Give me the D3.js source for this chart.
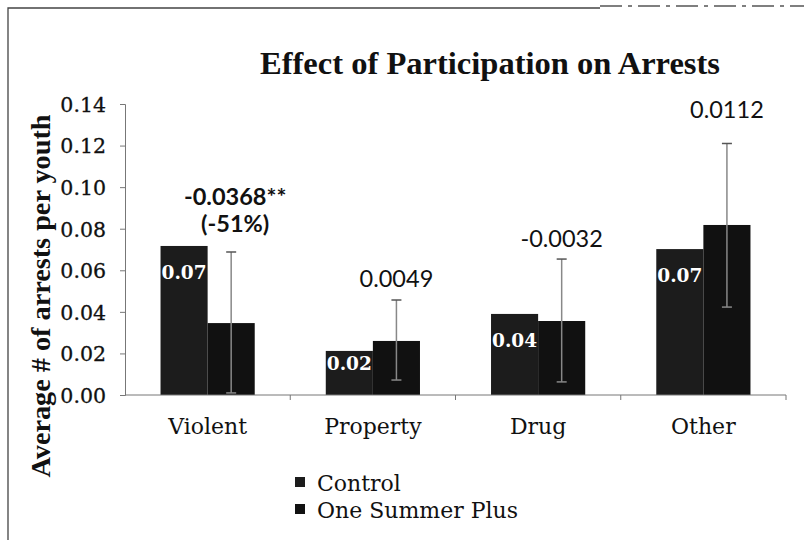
<!DOCTYPE html>
<html>
<head>
<meta charset="utf-8">
<script src="https://cdn.jsdelivr.net/npm/d3@7"></script>
<style>
  body { margin: 0; background: #fff; }
</style>
</head>
<body>
<div id="chart"></div>
<script>
// 資料
const categories = ["Violent", "Property", "Drug", "Other"];
const series = ["Control", "One Summer Plus"];
const controlValues = [0.0717, 0.0212, 0.039, 0.0702];
const oneSummerValues = [0.0346, 0.026, 0.0356, 0.0818];
const errorLow = [0.001, 0.0072, 0.0063, 0.0423];
const errorHigh = [0.0688, 0.0457, 0.0654, 0.121];
const effectLabels = [["-0.0368**", "(-51%)"], ["0.0049"], ["-0.0032"], ["0.0112"]];
const effectLabelAt = [[0.0914, 0.0784], [0.052], [0.0712], [0.1333]];
const controlLabels = ["0.07", "0.02", "0.04", "0.07"];
const yTicks = [0, 0.02, 0.04, 0.06, 0.08, 0.10, 0.12, 0.14];

const width = 804, height = 540;
const margin = { left: 125, right: 18, top: 104, bottom: 145 };

const svg = d3.select("#chart").append("svg")
    .attr("width", width)
    .attr("height", height);

// 外框
svg.append("path")
    .attr("d", "M8,540 L8,8 L600,8")
    .attr("fill", "none")
    .attr("stroke", "#444")
    .attr("stroke-width", 1.3);
svg.append("line")
    .attr("x1", 600).attr("x2", 804)
    .attr("y1", 6).attr("y2", 6)
    .attr("stroke", "#555")
    .attr("stroke-width", 1.3)
    .attr("stroke-dasharray", "22,6,4,6");

const x = d3.scaleBand()
    .domain(categories)
    .range([margin.left, width - margin.right])
    .paddingInner(0.43)
    .paddingOuter(0.215);

const xBand = d3.scaleBand()
    .domain(categories)
    .range([margin.left, width - margin.right]);

const xs = d3.scaleBand()
    .domain(series)
    .range([0, x.bandwidth()]);

const y = d3.scaleLinear()
    .domain([0, 0.14])
    .range([height - margin.bottom, margin.top]);

const colors = { "Control": "#1c1c1c", "One Summer Plus": "#111" };
const serif = "DejaVu Serif, serif";

// 標題
svg.append("text")
    .attr("x", 490).attr("y", 74)
    .attr("text-anchor", "middle")
    .attr("font-family", "Liberation Serif, serif")
    .attr("font-weight", "bold")
    .attr("font-size", 32)
    .attr("textLength", 460)
    .attr("lengthAdjust", "spacingAndGlyphs")
    .attr("fill", "#111")
    .text("Effect of Participation on Arrests");

// 長條
const groups = svg.selectAll("g.cat")
    .data(categories)
    .enter().append("g")
    .attr("class", "cat")
    .attr("transform", d => `translate(${x(d)},0)`);

groups.append("rect")
    .attr("x", xs("Control"))
    .attr("y", (d, i) => y(controlValues[i]))
    .attr("width", xs.bandwidth())
    .attr("height", (d, i) => y(0) - y(controlValues[i]))
    .attr("fill", colors["Control"]);

groups.append("rect")
    .attr("x", xs("One Summer Plus"))
    .attr("y", (d, i) => y(oneSummerValues[i]))
    .attr("width", xs.bandwidth())
    .attr("height", (d, i) => y(0) - y(oneSummerValues[i]))
    .attr("fill", colors["One Summer Plus"]);

// 誤差線
const ex = xs("One Summer Plus") + xs.bandwidth() / 2;
groups.append("line")
    .attr("x1", ex).attr("x2", ex)
    .attr("y1", (d, i) => y(errorLow[i]))
    .attr("y2", (d, i) => y(errorHigh[i]))
    .attr("stroke", "#888").attr("stroke-width", 1.5);
groups.append("line")
    .attr("x1", ex - 5).attr("x2", ex + 5)
    .attr("y1", (d, i) => y(errorHigh[i]))
    .attr("y2", (d, i) => y(errorHigh[i]))
    .attr("stroke", "#555").attr("stroke-width", 1.5);
groups.append("line")
    .attr("x1", ex - 5).attr("x2", ex + 5)
    .attr("y1", (d, i) => y(errorLow[i]))
    .attr("y2", (d, i) => y(errorLow[i]))
    .attr("stroke", "#888").attr("stroke-width", 1.5);

// 控制組數值
groups.append("text")
    .attr("x", xs("Control") + 1)
    .attr("y", (d, i) => {
        const top = y(controlValues[i]);
        return Math.min(top + 26, (top + y(0)) / 2 - 10) + 7;
    })
    .attr("font-family", serif)
    .attr("font-weight", "bold")
    .attr("font-size", 19)
    .attr("textLength", xs.bandwidth() - 2)
    .attr("lengthAdjust", "spacingAndGlyphs")
    .attr("fill", "#fff")
    .text((d, i) => controlLabels[i]);

// 效果標籤
groups.each(function (d, i) {
    const g = d3.select(this);
    effectLabels[i].forEach((t, k) => {
        g.append("text")
            .attr("x", ex + (i === 0 ? 4 : 0))
            .attr("y", y(effectLabelAt[i][k]))
            .attr("text-anchor", "middle")
            .attr("font-family", "Lato, sans-serif")
            .attr("font-weight", i === 0 ? "bold" : "normal")
            .attr("font-size", 23.5)
            .attr("fill", "#111")
            .text(t);
    });
});

// Y 軸
const yAxis = svg.append("g")
    .attr("transform", `translate(${margin.left},0)`)
    .call(d3.axisLeft(y).tickValues(yTicks).tickFormat(d3.format(".2f")).tickSizeOuter(0).tickSize(5));
yAxis.selectAll("text")
    .attr("font-family", serif)
    .attr("font-size", 20.5)
    .attr("fill", "#111")
    .attr("stroke", "#111")
    .attr("stroke-width", 0.3)
    .attr("x", -19)
    .attr("dy", "0.36em");
yAxis.selectAll("line, path").attr("stroke", "#777");

// X 軸
const xAxisY = y(0);
svg.append("line")
    .attr("x1", margin.left).attr("x2", width - margin.right)
    .attr("y1", xAxisY).attr("y2", xAxisY)
    .attr("stroke", "#777");
svg.selectAll("line.xtick")
    .data(categories)
    .enter().append("line")
    .attr("class", "xtick")
    .attr("x1", d => xBand(d) + xBand.bandwidth())
    .attr("x2", d => xBand(d) + xBand.bandwidth())
    .attr("y1", xAxisY).attr("y2", xAxisY + 5)
    .attr("stroke", "#777");
svg.selectAll("text.xlab")
    .data(categories)
    .enter().append("text")
    .attr("class", "xlab")
    .attr("x", d => x(d) + x.bandwidth() / 2)
    .attr("y", 434)
    .attr("text-anchor", "middle")
    .attr("font-family", serif)
    .attr("font-size", 22)
    .attr("fill", "#111")
    .text(d => d);

// Y 軸標題
svg.append("text")
    .attr("transform", "translate(50,296) rotate(-90)")
    .attr("text-anchor", "middle")
    .attr("font-family", "Liberation Serif, serif")
    .attr("font-weight", "bold")
    .attr("font-size", 28)
    .attr("textLength", 363)
    .attr("lengthAdjust", "spacingAndGlyphs")
    .attr("fill", "#111")
    .text("Average # of arrests per youth");

// 圖例
const legend = svg.selectAll("g.legend")
    .data(series)
    .enter().append("g")
    .attr("class", "legend")
    .attr("transform", (d, i) => `translate(295,${477 + i * 27})`);
legend.append("rect")
    .attr("width", 10).attr("height", 10)
    .attr("fill", d => colors[d]);
legend.append("text")
    .attr("x", 22).attr("y", 14)
    .attr("font-family", serif)
    .attr("font-size", 22)
    .attr("fill", "#111")
    .text(d => d);
</script>
</body>
</html>
